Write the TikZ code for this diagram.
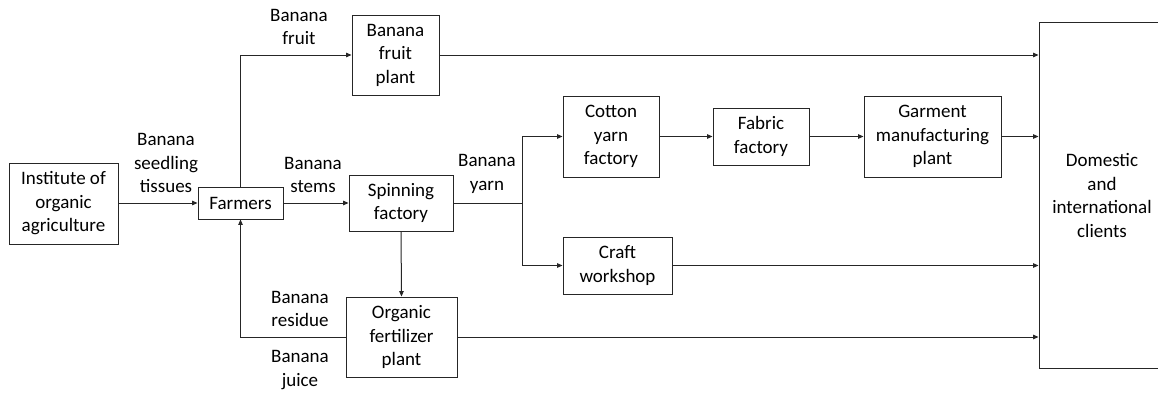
\documentclass[tikz,border=0pt]{standalone}
\usepackage{fontspec}
\setmainfont{Carlito}
\usetikzlibrary{arrows.meta}
\begin{document}
\begin{tikzpicture}[x=1pt,y=-1pt,
  every node/.style={font=\fontsize{19}{23.5}\selectfont, align=center, inner sep=0pt},
  box/.style={draw=black!85, line width=0.9pt},
  lbl/.style={},
  flow/.style={draw=black!85, line width=1pt, -{Triangle[length=5.5pt,width=4.5pt]}},
  seg/.style={draw=black!85, line width=1pt}]
\clip (0,0) rectangle (1158,392);
\fill[white] (0,0) rectangle (1158,392);
% boxes
\node[box, minimum width=109pt, minimum height=81pt] (inst) at (63.5,203.5) {Institute of\\organic\\agriculture};
\node[box, minimum width=85pt, minimum height=32pt] (farm) at (240.5,203) {Farmers};
\node[box, minimum width=87pt, minimum height=80pt] (fp) at (395.5,55) {Banana\\fruit\\plant};
\node[box, minimum width=104pt, minimum height=56pt] (spin) at (401,203) {Spinning\\factory};
\node[box, minimum width=111pt, minimum height=80pt] (org) at (401.5,337) {Organic\\fertilizer\\plant};
\node[box, minimum width=96pt, minimum height=81pt] (cot) at (611,136.5) {Cotton\\yarn\\factory};
\node[box, minimum width=96pt, minimum height=57pt] (fab) at (761,136.5) {Fabric\\factory};
\node[box, minimum width=137pt, minimum height=81pt] (gar) at (932.5,136.5) {Garment\\manufacturing\\plant};
\node[box, minimum width=109pt, minimum height=57pt] (craft) at (617.5,265.5) {Craft\\workshop};
\node[box, minimum width=126pt, minimum height=345.5pt] (dom) at (1102,195.25) {Domestic\\and\\international\\clients};
% labels
\node[lbl] (l1) at (166,163) {Banana\\seedling\\tissues};
\node[lbl] (l2) at (299,27) {Banana\\fruit};
\node[lbl] (l3) at (313,175) {Banana\\stems};
\node[lbl] (l4) at (487,174) {Banana\\yarn};
\node[lbl] (l5) at (300,309) {Banana\\residue};
\node[lbl] (l6) at (300,370) {Banana\\juice};
% coordinates
\coordinate (j) at (522,203);
\coordinate (c1) at (240.5,55);
\coordinate (c2) at (240.5,337);
% connectors
\draw[flow] (inst.east |- farm.west) -- (farm.west);
\draw[flow] (farm.east) -- (spin.west);
\draw[flow] (farm.north) -- (c1) -- (fp.west);
\draw[flow] (fp.east) -- (fp.east -| dom.west);
\draw[seg] (spin.east) -- (j);
\draw[flow] (j) |- (cot.west);
\draw[flow] (j) |- (craft.west);
\draw[flow] (cot.east) -- (fab.west);
\draw[flow] (fab.east) -- (gar.west);
\draw[flow] (gar.east) -- (gar.east -| dom.west);
\draw[flow] (craft.east) -- (craft.east -| dom.west);
\draw[flow] (spin.south) -- (org.north);
\draw[flow] (org.west) -- (c2) -- (farm.south);
\draw[flow] (org.east) -- (org.east -| dom.west);
\end{tikzpicture}
\end{document}
